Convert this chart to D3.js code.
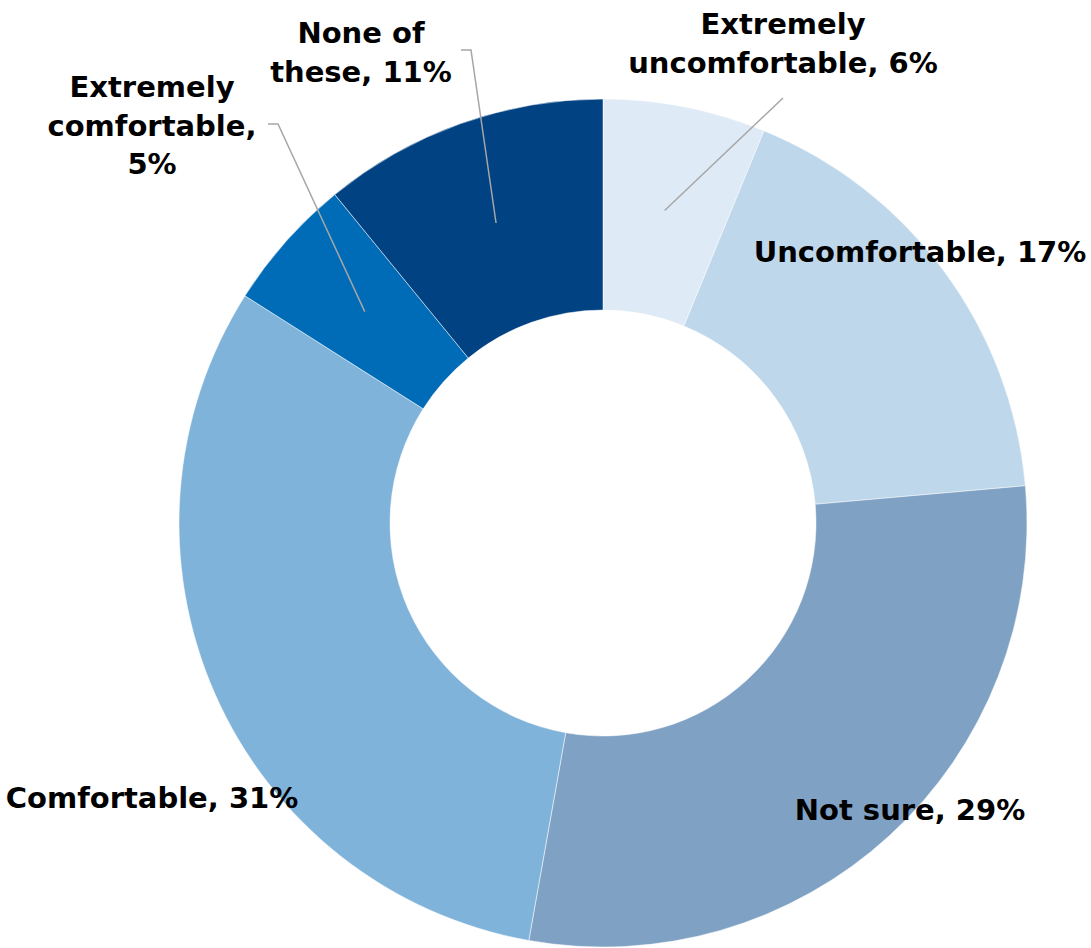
<!DOCTYPE html>
<html>
<head>
<meta charset="utf-8">
<script src="https://cdn.jsdelivr.net/npm/d3@7"></script>
<style>
  html, body { margin: 0; padding: 0; background: #ffffff; }
  svg { display: block; }
  text { font-family: "DejaVu Sans", "Open Sans", sans-serif; font-weight: bold; fill: #000; }
</style>
</head>
<body>
<svg id="chart" width="1091" height="948"></svg>
<script>
// ---- data ----
const categories = ["Extremely uncomfortable", "Uncomfortable", "Not sure", "Comfortable", "Extremely comfortable", "None of these"];
const values = [6.2, 17.4, 29.2, 31.2, 5.1, 10.9];
const shownPercents = ["6%", "17%", "29%", "31%", "5%", "11%"];
const labelLines = [
  ["Extremely", "uncomfortable, 6%"],
  ["Uncomfortable, 17%"],
  ["Not sure, 29%"],
  ["Comfortable, 31%"],
  ["Extremely", "comfortable,", "5%"],
  ["None of", "these, 11%"]
];
const colors = ["#DEEAF5", "#BED7EB", "#7FA1C4", "#7FB3DA", "#006BB6", "#004282"];

// ---- layout ----
const cx = 603, cy = 523, R = 424, r = 213;
// label anchor (center x, first baseline y) and leader line elbow points
const labelPos = [
  {x: 783, y: 34},
  {x: 920, y: 262},
  {x: 910, y: 820},
  {x: 152, y: 808},
  {x: 152, y: 97},
  {x: 361, y: 43}
];
const leaders = [
  {end: [783, 98], elbow: null},
  null, null, null,
  {end: [278, 124], elbow: [268, 124]},
  {end: [471, 50], elbow: [461, 50]}
];
const lineH = 38.5;

const svg = d3.select("#chart");
const g = svg.append("g").attr("transform", `translate(${cx},${cy})`);

const pie = d3.pie().value(d => d).sort(null).startAngle(0).endAngle(2 * Math.PI);
const arcs = pie(values);
const arc = d3.arc().innerRadius(r).outerRadius(R);
const midArc = d3.arc().innerRadius((r + R) / 2).outerRadius((r + R) / 2);

g.selectAll("path.slice")
  .data(arcs)
  .join("path")
  .attr("class", "slice")
  .attr("d", arc)
  .attr("fill", (d, i) => colors[i])
  .attr("stroke", "#ffffff")
  .attr("stroke-width", 0.5);

// leader lines
arcs.forEach((a, i) => {
  const L = leaders[i];
  if (!L) return;
  const c = midArc.centroid(a);
  const pts = [[cx + c[0], cy + c[1]], L.end];
  if (L.elbow) pts.push(L.elbow);
  svg.append("path")
    .attr("d", d3.line()(pts))
    .attr("fill", "none")
    .attr("stroke", "#A6A6A6")
    .attr("stroke-width", 1.5);
});

// labels
labelLines.forEach((lines, i) => {
  const t = svg.append("text")
    .attr("text-anchor", "middle")
    .attr("font-size", 29);
  lines.forEach((ln, j) => {
    t.append("tspan")
      .attr("x", labelPos[i].x)
      .attr("y", labelPos[i].y + j * lineH)
      .text(ln);
  });
});
</script>
</body>
</html>
